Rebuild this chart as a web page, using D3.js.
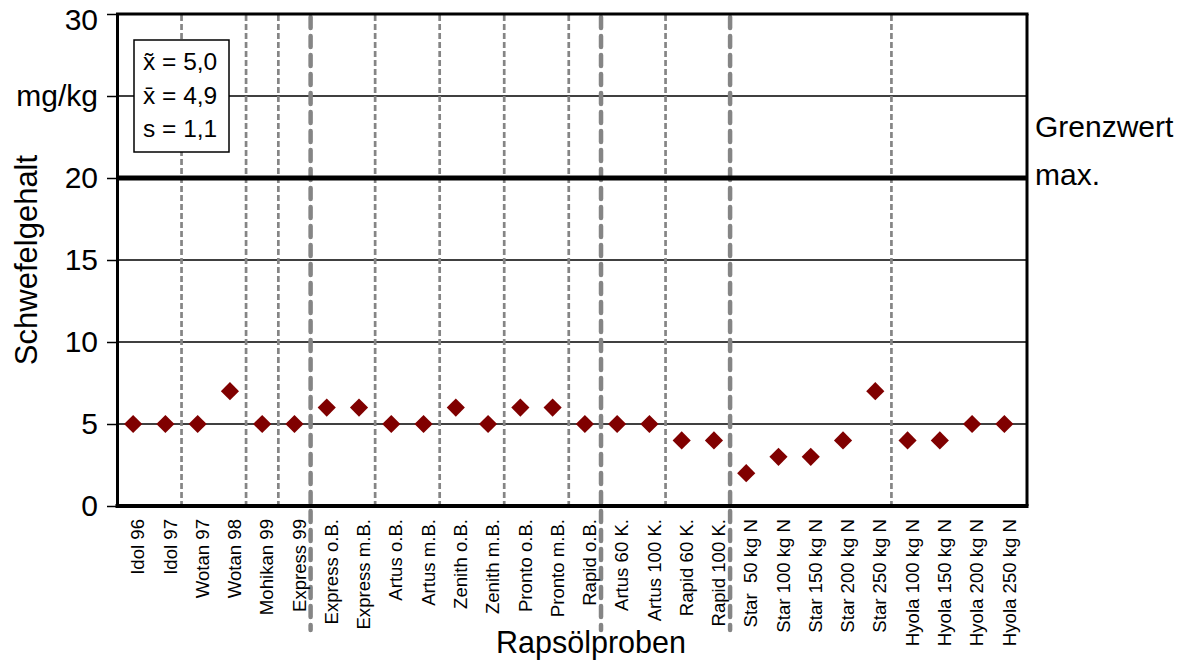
<!DOCTYPE html>
<html>
<head>
<meta charset="utf-8">
<script src="https://cdn.jsdelivr.net/npm/d3@7"></script>
<style>
  html, body { margin: 0; padding: 0; background: #fff; }
  svg { display: block; font-family: Arial, "Liberation Sans", sans-serif; }
</style>
</head>
<body>
<svg id="chart" width="1189" height="660"></svg>
<script>
// ---- data ----
const categories = [
  "Idol 96", "Idol 97", "Wotan 97", "Wotan 98", "Mohikan 99", "Express 99",
  "Express o.B.", "Express m.B.", "Artus o.B.", "Artus m.B.",
  "Zenith o.B.", "Zenith m.B.", "Pronto o.B.", "Pronto m.B.", "Rapid o.B.",
  "Artus 60 K.", "Artus 100 K.", "Rapid 60 K.", "Rapid 100 K.",
  "Star  50 kg N", "Star 100 kg N", "Star 150 kg N", "Star 200 kg N", "Star 250 kg N",
  "Hyola 100 kg N", "Hyola 150 kg N", "Hyola 200 kg N", "Hyola 250 kg N"
];
const sulfurValues = [5, 5, 5, 7, 5, 5, 6, 6, 5, 5, 6, 5, 6, 6, 5, 5, 5, 4, 4, 2, 3, 3, 4, 7, 4, 4, 5, 5];
const yTickValues = [0, 5, 10, 15, 20, 25, 30];
const yTickLabels = ["0", "5", "10", "15", "20", "mg/kg", "30"];
const limitValue = 20;
// separators after these category indices
const thinSeparatorsAfter = [1, 3, 4, 7, 9, 11, 13, 16, 23];
const thickSeparatorsAfter = [5, 14, 18];
const statsLines = ["x\u0303 = 5,0", "x\u0304 = 4,9", "s = 1,1"];

// ---- layout ----
const svg = d3.select("#chart");
const plotLeft = 117, plotRight = 1027, plotTop = 14, plotBottom = 506;

const x = d3.scaleBand().domain(categories).range([plotLeft, 1020.5]).padding(0);
const y = d3.scaleLinear().domain([0, 30]).range([plotBottom, plotTop]);

// gridlines
svg.append("g").selectAll("line")
  .data(yTickValues.filter(v => v !== 0 && v !== 30 && v !== limitValue))
  .join("line")
  .attr("x1", plotLeft).attr("x2", plotRight)
  .attr("y1", d => y(d)).attr("y2", d => y(d))
  .attr("stroke", "#000").attr("stroke-width", 1.3);

// separators
const boundary = i => x(categories[i]) + x.bandwidth();
svg.append("g").selectAll("line")
  .data(thinSeparatorsAfter)
  .join("line")
  .attr("x1", d => boundary(d)).attr("x2", d => boundary(d))
  .attr("y1", plotTop + 1).attr("y2", plotBottom)
  .attr("stroke", "#858585").attr("stroke-width", 2.7)
  .attr("stroke-dasharray", "6,3");
svg.append("g").selectAll("line")
  .data(thickSeparatorsAfter)
  .join("line")
  .attr("x1", d => boundary(d)).attr("x2", d => boundary(d))
  .attr("y1", plotTop + 3).attr("y2", 630)
  .attr("stroke", "#858585").attr("stroke-width", 4.5)
  .attr("stroke-linecap", "round")
  .attr("stroke-dasharray", "11,8");

// limit line
svg.append("line")
  .attr("x1", plotLeft).attr("x2", plotRight)
  .attr("y1", y(limitValue)).attr("y2", y(limitValue))
  .attr("stroke", "#000").attr("stroke-width", 5);

// frame
svg.append("line").attr("x1", plotLeft - 1).attr("x2", plotRight + 1.5).attr("y1", y(30)).attr("y2", y(30))
  .attr("stroke", "#000").attr("stroke-width", 3);
svg.append("line").attr("x1", plotRight).attr("x2", plotRight).attr("y1", y(30)).attr("y2", y(0))
  .attr("stroke", "#000").attr("stroke-width", 3);
svg.append("line").attr("x1", plotLeft - 1.5).attr("x2", plotRight + 1.5).attr("y1", y(0)).attr("y2", y(0))
  .attr("stroke", "#000").attr("stroke-width", 4);

// y axis
const yAxis = d3.axisLeft(y)
  .tickValues(yTickValues)
  .tickFormat((d, i) => yTickLabels[i])
  .tickSizeInner(10).tickSizeOuter(0).tickPadding(9);
const gy = svg.append("g").attr("transform", `translate(${plotLeft},0)`).call(yAxis);
gy.select(".domain").attr("stroke", "#000").attr("stroke-width", 3);
gy.selectAll(".tick line").attr("stroke", "#000").attr("stroke-width", 1.5);
gy.selectAll(".tick text")
  .attr("font-size", 30).attr("fill", "#000")
  .attr("font-family", "Arial, 'Liberation Sans', sans-serif")
  .attr("transform", d => d === 30 ? "translate(0,6)" : null);

// x axis labels
const xAxis = d3.axisBottom(x).tickSize(0).tickPadding(0);
const gx = svg.append("g").attr("transform", `translate(0,${plotBottom})`).call(xAxis);
gx.select(".domain").remove();
gx.selectAll(".tick text")
  .attr("font-size", 18.6).attr("fill", "#000")
  .attr("font-family", "Arial, 'Liberation Sans', sans-serif")
  .attr("transform", "rotate(-90)")
  .attr("text-anchor", "end")
  .attr("x", -13).attr("y", 0)
  .attr("dy", "0.6em")
  .style("white-space", "pre");

// stats box
const box = svg.append("g");
box.append("rect")
  .attr("x", 134).attr("y", 40).attr("width", 95).attr("height", 112)
  .attr("fill", "#fff").attr("stroke", "#000").attr("stroke-width", 1.5);
box.selectAll("text").data(statsLines).join("text")
  .attr("x", 143).attr("y", (d, i) => 70 + i * 33.5)
  .attr("font-size", 24.5).attr("fill", "#000")
  .text(d => d);

// markers
const diamond = d3.symbol().type(d3.symbolSquare).size(165);
svg.append("g").selectAll("path")
  .data(sulfurValues)
  .join("path")
  .attr("d", diamond)
  .attr("transform", (d, i) => `translate(${x(categories[i]) + x.bandwidth() / 2},${y(d)}) rotate(45)`)
  .attr("fill", "#800000");

// titles
svg.append("text")
  .attr("transform", `translate(37,260) rotate(-90)`)
  .attr("text-anchor", "middle")
  .attr("font-size", 31).attr("fill", "#000")
  .text("Schwefelgehalt");
svg.append("text")
  .attr("x", 591).attr("y", 653)
  .attr("text-anchor", "middle")
  .attr("font-size", 30.5).attr("fill", "#000")
  .text("Rapsölproben");
svg.append("text")
  .attr("x", 1035).attr("y", 137)
  .attr("font-size", 30).attr("fill", "#000")
  .text("Grenzwert");
svg.append("text")
  .attr("x", 1035).attr("y", 185)
  .attr("font-size", 30).attr("fill", "#000")
  .text("max.");
</script>
</body>
</html>
